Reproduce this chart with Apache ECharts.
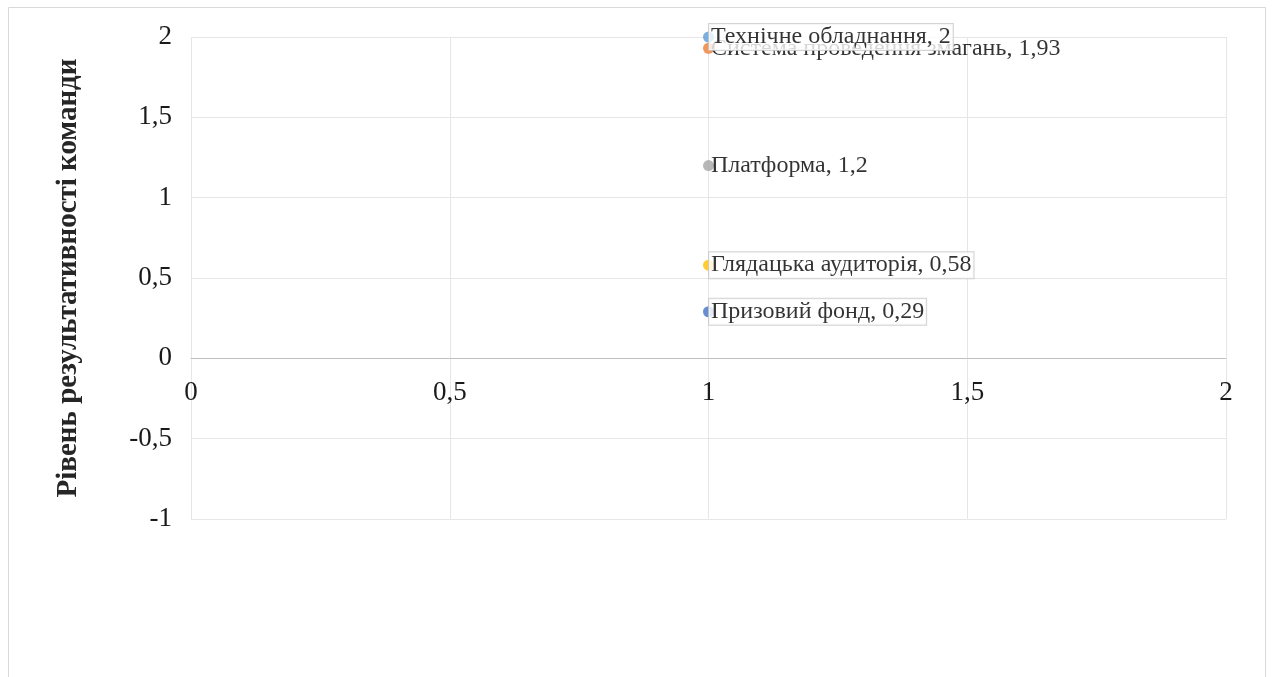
<!DOCTYPE html>
<html>
<head>
<meta charset="utf-8">
<script src="https://cdn.jsdelivr.net/npm/echarts@6/dist/echarts.min.js"></script>
<style>
  html, body { margin: 0; padding: 0; background: #ffffff; }
  #chart { width: 1272px; height: 677px; }
</style>
</head>
<body>
<div id="chart"></div>
<script>
// Фактори та їх координати
const factorNames = [
  'Призовий фонд',
  'Система проведення змагань',
  'Платформа',
  'Глядацька аудиторія',
  'Технічне обладнання'
];
const xValues = [1, 1, 1, 1, 1];
const yValues = [0.29, 1.93, 1.2, 0.58, 2];

const yAxisTitle = 'Рівень результативності команди';
const xTicks = [0, 0.5, 1, 1.5, 2];
const yTicks = [-1, -0.5, 0, 0.5, 1, 1.5, 2];

// Кольори точок та підписи з рамкою
const pointColors = ['#4472C4', '#ED7D31', '#A5A5A5', '#FFC000', '#5B9BD5'];
const framed = new Set(['Призовий фонд', 'Глядацька аудиторія', 'Технічне обладнання']);

const fmt = v => String(v).replace('.', ',');
const serif = '"Liberation Serif", "Times New Roman", serif';

const gridTop = 37, gridBottom = 158, chartHeight = 677;
// Вісь X проходить через нуль осі Y
const plotHeight = chartHeight - gridTop - gridBottom;
const zeroShift = plotHeight * (0 - yTicks[0]) / (yTicks[yTicks.length - 1] - yTicks[0]);

const series = factorNames.map((name, i) => ({
  name: name,
  type: 'scatter',
  symbol: 'circle',
  symbolSize: 11,
  z: 2 + i,
  itemStyle: { color: pointColors[i] },
  data: [[xValues[i], yValues[i]]],
  label: {
    show: true,
    position: 'right',
    distance: -5,
    formatter: () => name + ', ' + fmt(yValues[i]),
    fontFamily: serif,
    fontSize: 24,
    color: '#000000',
    backgroundColor: framed.has(name) ? '#ffffff' : 'transparent',
    borderColor: framed.has(name) ? '#c8c8c8' : 'transparent',
    borderWidth: framed.has(name) ? 1 : 0,
    padding: [2, 2, 0, 2]
  }
}));

const chart = echarts.init(document.getElementById('chart'), null, { renderer: 'canvas' });
chart.setOption({
  animation: false,
  backgroundColor: '#ffffff',
  graphic: [{
    type: 'rect',
    shape: { x: 8.5, y: 7.5, width: 1257, height: 720 },
    style: { fill: 'none', stroke: '#d9d9d9', lineWidth: 1 },
    silent: true
  }],
  grid: { left: 191, right: 46, top: gridTop, bottom: gridBottom, containLabel: false },
  xAxis: {
    type: 'value',
    min: xTicks[0],
    max: xTicks[xTicks.length - 1],
    interval: 0.5,
    offset: -zeroShift,
    axisLine: { onZero: false, lineStyle: { color: '#bfbfbf', width: 1 } },
    axisTick: { show: false },
    axisLabel: {
      fontFamily: serif, fontSize: 27, color: '#1a1a1a', margin: 21,
      formatter: v => fmt(v)
    },
    splitLine: { show: true, lineStyle: { color: '#e6e6e6', width: 1 } }
  },
  yAxis: {
    type: 'value',
    min: yTicks[0],
    max: yTicks[yTicks.length - 1],
    interval: 0.5,
    name: yAxisTitle,
    nameLocation: 'middle',
    nameGap: 108,
    nameTextStyle: { fontFamily: serif, fontSize: 29, fontWeight: 'bold', color: '#262626' },
    axisLine: { show: false },
    axisTick: { show: false },
    axisLabel: {
      fontFamily: serif, fontSize: 27, color: '#1a1a1a', margin: 19,
      formatter: v => fmt(v)
    },
    splitLine: { show: true, lineStyle: { color: '#e6e6e6', width: 1 } }
  },
  series: series
});
</script>
</body>
</html>
